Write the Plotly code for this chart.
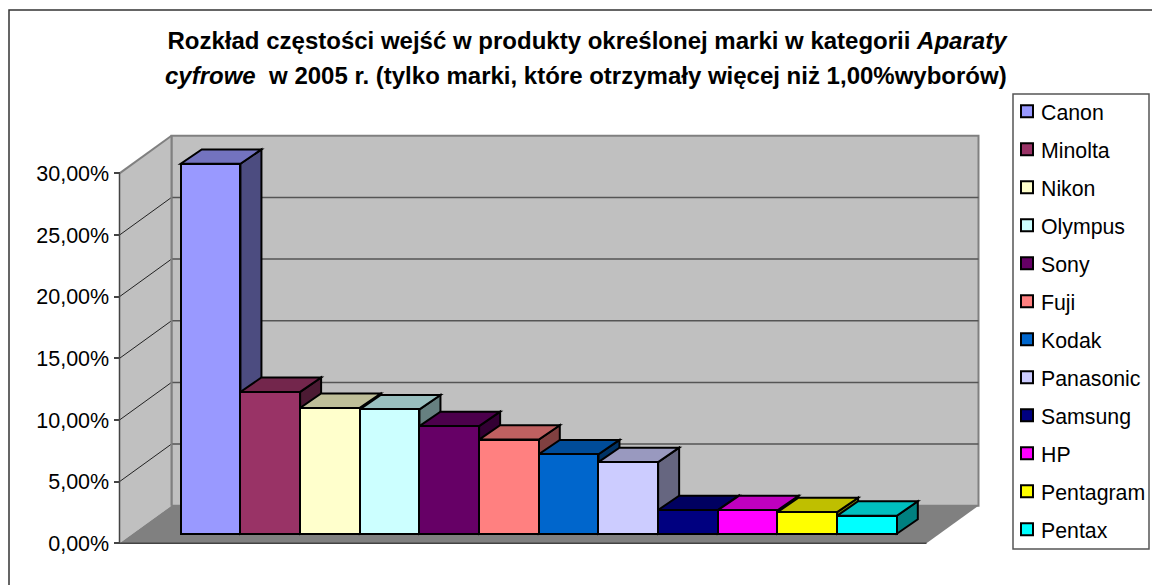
import plotly.graph_objects as go

brands = ["Canon", "Minolta", "Nikon", "Olympus", "Sony", "Fuji", "Kodak", "Panasonic", "Samsung", "HP", "Pentagram", "Pentax"]
values = [30.0, 11.5, 10.2, 10.08, 8.73, 7.63, 6.44, 5.81, 1.92, 1.9, 1.75, 1.46]
colors = ["#9999FF", "#993366", "#FFFFCC", "#CCFFFF", "#660066", "#FF8080", "#0066CC", "#CCCCFF", "#000080", "#FF00FF", "#FFFF00", "#00FFFF"]
tick_vals = [0, 5, 10, 15, 20, 25, 30]
tick_text = ["0,00%", "5,00%", "10,00%", "15,00%", "20,00%", "25,00%", "30,00%"]
title_1 = "Rozkład częstości wejść w produkty określonej marki w kategorii <i>Aparaty</i>"
title_2 = "<i>cyfrowe</i>  w 2005 r. (tylko marki, które otrzymały więcej niż 1,00%wyborów)"

W, H = 1152, 585
L, R, T, B = 100, 1000, 60, 570            # plot-area box in px
PX_X, PX_Y = 59.67, 12.33                   # px per category / per percent
X0_PX, Y0_PX = 210.6, 543.3                 # px of category 0 centre / of 0 %
xr = [(L - X0_PX) / PX_X, (R - X0_PX) / PX_X]
yr = [(Y0_PX - B) / PX_Y, (Y0_PX - T) / PX_Y]

AX = (119.5 - X0_PX) / PX_X                 # front-left corner of the box
AX_R = (926.5 - X0_PX) / PX_X               # front-right corner of the floor
WALL_DX, WALL_DY = 52 / PX_X, 37.6 / PX_Y   # depth of the box
BAR_DX, BAR_DY = 21 / PX_X, 14.4 / PX_Y     # depth of a bar
LIFT = 9.6 / PX_Y                           # bars stand forward of the box front


def dark(c, f):
    r, g, b = (int(c[i:i + 2], 16) for i in (1, 3, 5))
    return f"rgb({r * f:.0f},{g * f:.0f},{b * f:.0f})"


def poly(pts):
    return "M" + "L".join(f"{x},{y}" for x, y in pts) + "Z"


shapes = []


def add_poly(pts, fill, line="rgba(0,0,0,0)", width=0):
    shapes.append(dict(type="path", path=poly(pts), fillcolor=fill, layer="below", xref="x", yref="y",
                       line=dict(color=line, width=width)))


def add_line(x0, y0, x1, y1, color, width):
    shapes.append(dict(type="line", x0=x0, y0=y0, x1=x1, y1=y1, layer="below", xref="x", yref="y",
                       line=dict(color=color, width=width)))


top = tick_vals[-1]
back_l, back_r = AX + WALL_DX, AX_R + WALL_DX
# back wall, side wall, floor
add_poly([(back_l, WALL_DY), (back_r, WALL_DY), (back_r, top + WALL_DY), (back_l, top + WALL_DY)], "#C0C0C0", "#808080", 2)
add_poly([(AX, 0), (back_l, WALL_DY), (back_l, top + WALL_DY), (AX, top)], "#C0C0C0")
add_poly([(AX, 0), (AX_R, 0), (back_r, WALL_DY), (back_l, WALL_DY)], "#808080")
# grid
for v in tick_vals[1:-1]:
    add_line(AX, v, back_l, v + WALL_DY, "#222222", 1)
    add_line(back_l, v + WALL_DY, back_r, v + WALL_DY, "#555555", 1.5)
add_line(AX, top, back_l, top + WALL_DY, "#808080", 2)
add_line(back_l, WALL_DY, back_l, top + WALL_DY, "#808080", 2)
# axes
add_line(AX, 0, AX, top, "#444444", 1.5)
add_line(AX, 0, AX_R, 0, "#444444", 1.5)

# depth faces of the bars, drawn below the bar fronts, painter's order
for i, (v, c) in enumerate(zip(values, colors)):
    xl, xr_b = i - 0.5, i + 0.5
    yb, yt = LIFT, LIFT + v
    add_poly([(xr_b, yb), (xr_b + BAR_DX, yb + BAR_DY), (xr_b + BAR_DX, yt + BAR_DY), (xr_b, yt)], dark(c, 0.5), "black", 2)
    add_poly([(xl, yt), (xr_b, yt), (xr_b + BAR_DX, yt + BAR_DY), (xl + BAR_DX, yt + BAR_DY)], dark(c, 0.75), "black", 2)

fig = go.Figure()
for i, (b, v, c) in enumerate(zip(brands, values, colors)):
    fig.add_trace(go.Bar(x=[i], y=[v], base=[LIFT], width=1, name=b, legendgroup=b,
                         marker=dict(color=c, line=dict(color="black", width=2)), hoverinfo="skip"))


def px(x):
    return (x - L) / (R - L)


def py(y):
    return 1 - (y - T) / (B - T)


# outer frame and legend frame (paper coordinates)
shapes.append(dict(type="path", xref="paper", yref="paper", layer="below",
                   path=f"M{px(9)},{py(600)}L{px(9)},{py(10)}L{px(1170)},{py(10)}",
                   line=dict(color="#333333", width=1.5)))
shapes.append(dict(type="rect", xref="paper", yref="paper", layer="below",
                   x0=px(1013), x1=px(1149), y0=py(549), y1=py(94),
                   fillcolor="white", line=dict(color="#555555", width=1.5)))

fig.update_layout(
    width=W, height=H, autosize=False,
    margin=dict(l=L, r=W - R, t=T, b=H - B, autoexpand=False),
    paper_bgcolor="white", plot_bgcolor="rgba(0,0,0,0)",
    barmode="overlay", bargap=0,
    font=dict(family="Liberation Sans, Arial, sans-serif", color="black"),
    shapes=shapes,
    xaxis=dict(range=xr, visible=False, fixedrange=True),
    yaxis=dict(range=yr, anchor="free", position=(119.5 - L) / (R - L), tickmode="array", tickvals=tick_vals, ticktext=tick_text,
               ticks="outside", ticklen=6, tickwidth=1.5, tickcolor="#444444", showgrid=False, zeroline=False, showline=False,
               tickfont=dict(size=21.5), fixedrange=True),
    legend=dict(x=px(1001), y=py(91), xanchor="left", yanchor="top", bgcolor="rgba(0,0,0,0)", borderwidth=0,
                font=dict(size=21.3), tracegroupgap=7.3, traceorder="grouped", maxheight=560),
    title=dict(text=title_1, x=587 / W, xanchor="center", y=1 - 41 / H, yanchor="middle", font=dict(size=24, color="black"),
               xref="container", yref="container"),
    annotations=[dict(text=title_2, xref="paper", yref="paper", x=px(586), y=py(75.5), xanchor="center", yanchor="middle",
                      showarrow=False, font=dict(size=24, color="black"))],
)
fig.layout.title.font.weight = "bold"
fig.layout.annotations[0].font.weight = "bold"

fig.write_html("out.html", config=dict(displayModeBar=False),
               post_script="document.body.style.margin='0';document.body.style.overflow='hidden';"
                           "document.querySelectorAll('.legendsymbols').forEach(function(e){e.setAttribute('transform','translate(6,0)');});")
